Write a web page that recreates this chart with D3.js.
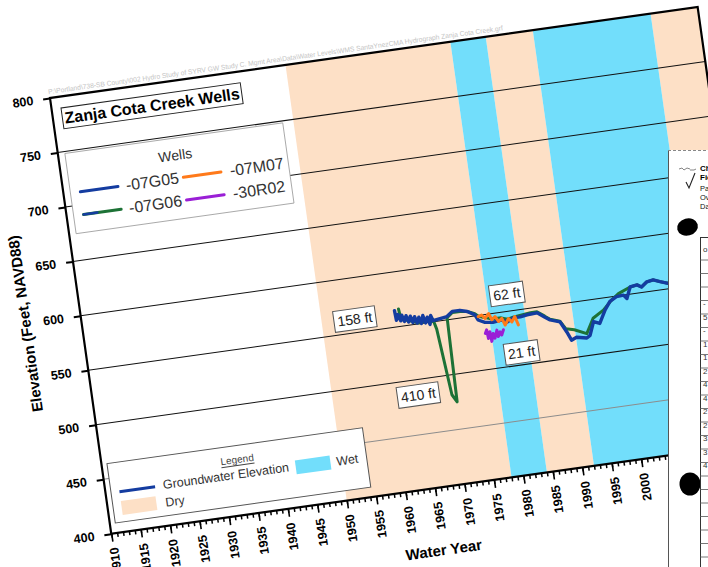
<!DOCTYPE html>
<html>
<head>
<meta charset="utf-8">
<script src="https://cdn.jsdelivr.net/npm/d3@7"></script>
<style>
  body { margin: 0; background: #fff; }
  svg { display: block; }
  text { font-family: "Liberation Sans", Arial, sans-serif; }
</style>
</head>
<body>
<svg id="chart" width="708" height="567"></svg>
<script>
// ---------------- DATA ----------------
const years07G05 = [1962.4,1962.5,1962.9,1963.2,1963.5,1963.8,1964.2,1964.5,1964.9,1965.2,1965.6,1965.9,1966.3,1966.6,1967.0,1967.3,1967.7,1968.0,1968.3,1968.6,1971.0,1972.0,1973.3,1974.5,1975.7,1976.1,1977.2,1978.5,1980.1,1980.9,1982.0,1983.2,1984.4,1986.1,1987.3,1988.1,1989.7,1990.6,1991.2,1992.1,1993.8,1994.4,1995.3,1996.3,1997.5,1998.5,1999.7,2000.9,2001.4,2002.2,2003.4,2004.1,2005.1,2006.2,2007.3,2008.6,2010.0,2012.0];
const elev07G05  = [565,556,561,555,560,554,559,553,558,552,557,551,556,550,557,550,555,548,556,551,553,557,557,555,551,546,543,542,543,540.5,543.5,543.5,544.5,545,540,537,534,524,516,518,516,518,530,527.5,539,546,549.5,550,546.5,556.5,557.5,555,559,560,557.5,555,556,552];

const years07G06 = [1963.1,1963.3,1963.8,1964.5,1965.2,1966.0,1966.8,1967.6,1968.2,1968.6,1969.0,1970.0,1970.7,1971.0,1972.0,1973.3,1974.5,1975.7,1976.3,1977.5,1978.5,1980.0,1981.0,1982.0,1983.5,1985.0,1986.1,1987.3,1988.1,1989.7,1990.5,1991.9,1993.9,1995.3,1997.2,1998.8,2000.1,2002.2,2003.4,2004.1,2005.1,2006.2,2007.3,2008.6];
const elev07G06  = [566,556,556,554,553,551,551,553,550,552,543,482,475,552,556,556,555,552,549,547,545,545,543,544,545,546,546,541,537.5,534.5,527,525,520,533,539,547,552,556.5,557.5,555,559,560,557.5,555];

const years07M07 = [1976.2,1976.8,1977.3,1978.0,1978.4,1979.0,1979.5,1980.1,1980.5,1981.2,1981.7,1982.3,1982.7];
const elev07M07  = [549,550,546.5,550.5,544.5,547,542,544.5,538,543.5,540,544.5,536.5];

const years30R02 = [1977.0,1977.3,1977.4,1977.8,1977.9,1978.3,1978.5,1979.0,1979.1,1979.5,1979.7,1980.1];
const elev30R02  = [533,536,528,534,525,532,527.5,534.5,528.5,532.5,529.5,534];

const dryPeriods = [[1950,1978],[1984,1992],[2012,2020]];
const wetPeriods = [[1978,1984],[1992,2012]];

const yTickValues = [400,450,500,550,600,650,700,750,800];
const gridValues  = [450,500,550,600,650,700,750];
const xMajorTicks = d3.range(1910, 2021, 5);
const xMinorTicks = d3.range(1910, 2021, 1);

const annotationTexts = ["158 ft","62 ft","21 ft","410 ft"];
const annotationYears = [1955.6, 1981.5, 1982.6, 1964.4];
const annotationElevs = [562.4, 565.8, 511.3, 486.0];

const wellNames = ["-07G05","-07M07","-07G06","-30R02"];
const chartTitle = "Zanja Cota Creek Wells";
const filePath = "P:\\Portland\\738-SB County\\002 Hydro Study of SYRV GW Study C. Mgmt Area\\Data\\Water Levels\\WMS SantaYnezCMA  Hydrograph Zanja Cota Creek.grf";

// ---------------- STYLE ----------------
const C = { blue:"#143ca0", green:"#1d7236", orange:"#ff7a1a", purple:"#9a1fd6", dry:"#fde0c6", wet:"#72defb" };

const svg = d3.select("#chart");
const W = 654, H = 440;
const g = svg.append("g").attr("transform", "translate(50,98) rotate(-8)");

const x = d3.scaleLinear().domain([1910, 2020]).range([0, W]);
const y = d3.scaleLinear().domain([400, 800]).range([H, 0]);

// file path text
g.append("text").attr("x", -1).attr("y", -4)
  .attr("font-size", 7).attr("fill", "#c4c4c4")
  .attr("textLength", 459).attr("lengthAdjust", "spacingAndGlyphs")
  .text(filePath);

// white plot bg
g.append("rect").attr("width", W).attr("height", H).attr("fill", "#fff");

// bands
g.selectAll("rect.dry").data(dryPeriods).join("rect").attr("class","dry")
  .attr("x", d => x(d[0])).attr("width", d => x(d[1]) - x(d[0]))
  .attr("y", 0).attr("height", H).attr("fill", C.dry);
g.selectAll("rect.wet").data(wetPeriods).join("rect").attr("class","wet")
  .attr("x", d => x(d[0])).attr("width", d => x(d[1]) - x(d[0]))
  .attr("y", 0).attr("height", H).attr("fill", C.wet);

// gridlines
g.selectAll("line.grid").data(gridValues).join("line").attr("class","grid")
  .attr("x1", 0).attr("x2", W).attr("y1", d => y(d)).attr("y2", d => y(d))
  .attr("stroke", d => d === 450 ? "#8c8c8c" : "#111").attr("stroke-width", 1);

// data lines
const line = d3.line().x(d => x(d[0])).y(d => y(d[1]));
const series = [
  {yrs: years07G06, el: elev07G06, color: C.green, w: 3},
  {yrs: years07G05, el: elev07G05, color: C.blue, w: 3.4},
  {yrs: years07M07, el: elev07M07, color: C.orange, w: 3},
  {yrs: years30R02, el: elev30R02, color: C.purple, w: 3}
];
series.forEach(s => {
  g.append("path").datum(d3.zip(s.yrs, s.el))
    .attr("d", line).attr("fill", "none")
    .attr("stroke", s.color).attr("stroke-width", s.w)
    .attr("stroke-linejoin", "round").attr("stroke-linecap", "round");
});

// frame
g.append("rect").attr("width", W).attr("height", H)
  .attr("fill", "none").attr("stroke", "#000").attr("stroke-width", 2.2);

// y axis
const ya = g.append("g").call(d3.axisLeft(y).tickValues(yTickValues).tickSize(7).tickPadding(10).tickFormat(d3.format("d")));
ya.select(".domain").remove();
ya.selectAll(".tick line").attr("stroke", "#000").attr("stroke-width", 2);
ya.selectAll("text").attr("font-family", "Liberation Sans, Arial, sans-serif")
  .attr("font-size", 12.5).attr("font-weight", "bold").attr("fill", "#000");

// x axis minor
const xm = g.append("g").attr("transform", `translate(0,${H})`)
  .call(d3.axisBottom(x).tickValues(xMinorTicks).tickSize(4).tickFormat(""));
xm.select(".domain").remove();
xm.selectAll(".tick line").attr("stroke", "#000").attr("stroke-width", 1.5);
// x axis major
const xa = g.append("g").attr("transform", `translate(0,${H})`)
  .call(d3.axisBottom(x).tickValues(xMajorTicks).tickSize(8).tickFormat(d3.format("d")));
xa.select(".domain").remove();
xa.selectAll(".tick line").attr("stroke", "#000").attr("stroke-width", 1.6);
xa.selectAll("text")
  .attr("transform", "rotate(-90)").attr("x", -14).attr("y", 0).attr("dy", "0.35em")
  .attr("text-anchor", "end")
  .attr("font-family", "Liberation Sans, Arial, sans-serif")
  .attr("font-size", 12.5).attr("font-weight", "bold").attr("fill", "#000");

// axis titles
g.append("text").attr("transform", `translate(-56,${H/2}) rotate(-90)`)
  .attr("text-anchor", "middle").attr("dominant-baseline", "central")
  .attr("font-size", 15).attr("font-weight", "bold").text("Elevation (Feet, NAVD88)");
g.append("text").attr("x", W/2).attr("y", 502)
  .attr("text-anchor", "middle").attr("dominant-baseline", "central")
  .attr("font-size", 15).attr("font-weight", "bold").text("Water Year");

// title box
g.append("rect").attr("x", 9.5).attr("y", 11.4).attr("width", 181).attr("height", 21)
  .attr("fill", "#fff").attr("stroke", "#222").attr("stroke-width", 1);
g.append("text").attr("x", 100).attr("y", 22).attr("text-anchor", "middle")
  .attr("dominant-baseline", "central").attr("font-size", 16).attr("font-weight", "bold")
  .text(chartTitle);

// wells legend
const wl = g.append("g");
wl.append("rect").attr("x", 7).attr("y", 57).attr("width", 220).attr("height", 81)
  .attr("fill", "#fff").attr("stroke", "#999").attr("stroke-width", 0.8);
wl.append("text").attr("x", 116).attr("y", 74).attr("text-anchor", "middle")
  .attr("dominant-baseline", "central").attr("font-size", 14).attr("fill", "#333").text("Wells");
const wellColors = [C.blue, C.orange, C.green, C.purple];
const colU = [17, 121], textU = [63, 168], rowV = [97, 120];
wellNames.forEach((nm, i) => {
  const c = i % 2, r = Math.floor(i / 2);
  wl.append("line").attr("x1", colU[c]).attr("x2", colU[c] + 38)
    .attr("y1", rowV[r]).attr("y2", rowV[r])
    .attr("stroke", wellColors[i]).attr("stroke-width", 3).attr("stroke-linecap", "round");
  if (nm === "-07G06") {
    wl.append("line").attr("x1", colU[c]).attr("x2", colU[c] + 14)
      .attr("y1", rowV[r]).attr("y2", rowV[r])
      .attr("stroke", C.blue).attr("stroke-width", 2.4).attr("stroke-linecap", "round");
  }
  wl.append("text").attr("x", textU[c]).attr("y", rowV[r]).attr("dominant-baseline", "central")
    .attr("font-size", 16).attr("fill", "#333").text(nm);
});

// bottom legend
const bl = g.append("g");
bl.append("rect").attr("x", 5.5).attr("y", 370).attr("width", 258).attr("height", 60)
  .attr("fill", "#fff").attr("stroke", "#555").attr("stroke-width", 1);
bl.append("text").attr("x", 135).attr("y", 384).attr("text-anchor", "middle")
  .attr("dominant-baseline", "central").attr("font-size", 10).attr("fill", "#444")
  .attr("text-decoration", "underline").text("Legend");
bl.append("line").attr("x1", 14).attr("x2", 50).attr("y1", 399.5).attr("y2", 399.5)
  .attr("stroke", C.blue).attr("stroke-width", 3);
bl.append("text").attr("x", 58).attr("y", 399).attr("dominant-baseline", "central")
  .attr("font-size", 12.5).attr("fill", "#333").text("Groundwater Elevation");
bl.append("rect").attr("x", 192).attr("y", 393).attr("width", 35).attr("height", 14).attr("fill", C.wet);
bl.append("text").attr("x", 233).attr("y", 400).attr("dominant-baseline", "central")
  .attr("font-size", 12.5).attr("fill", "#333").text("Wet");
bl.append("rect").attr("x", 14).attr("y", 409).attr("width", 35).attr("height", 14).attr("fill", C.dry);
bl.append("text").attr("x", 58).attr("y", 417).attr("dominant-baseline", "central")
  .attr("font-size", 12.5).attr("fill", "#333").text("Dry");

// annotation boxes
annotationTexts.forEach((t, i) => {
  const a = g.append("g").attr("transform", `translate(${x(annotationYears[i])},${y(annotationElevs[i])})`);
  const tx = a.append("text").attr("text-anchor", "middle").attr("dominant-baseline", "central")
    .attr("font-size", 14).attr("fill", "#222").text(t);
  const w = tx.node().getComputedTextLength() + 7;
  a.insert("rect", "text").attr("x", -w/2).attr("y", -10.5).attr("width", w).attr("height", 21)
    .attr("fill", "#fff").attr("stroke", "#555").attr("stroke-width", 1);
});

// ---------------- paper overlay (unrotated) ----------------
const p = svg.append("g");
p.append("rect").attr("x", 668).attr("y", 150).attr("width", 40).attr("height", 417).attr("fill", "#fff");
p.append("line").attr("x1", 668.5).attr("x2", 668.5).attr("y1", 150).attr("y2", 567)
  .attr("stroke", "#555").attr("stroke-width", 1);
p.append("line").attr("x1", 668).attr("x2", 708).attr("y1", 150.5).attr("y2", 150.5)
  .attr("stroke", "#888").attr("stroke-width", 1).attr("stroke-dasharray", "3,2");
p.append("path").attr("d", "M679,169 l3,-1 l2,2 l3,-2 l3,1 M690,170 l4,0 l2,-1")
  .attr("fill", "none").attr("stroke", "#666").attr("stroke-width", 0.8);
p.append("text").attr("x", 700).attr("y", 171).attr("font-size", 8).attr("font-weight", "bold").attr("fill", "#000").text("Check");
p.append("text").attr("x", 700).attr("y", 180).attr("font-size", 8).attr("font-weight", "bold").attr("fill", "#000").text("Field");
p.append("path").attr("d", "M686,182 l3,6 l6,-15").attr("fill", "none").attr("stroke", "#222").attr("stroke-width", 1.1);
[["Pa",191],["Ov",200],["Da",209]].forEach(([t, yy]) => {
  p.append("text").attr("x", 700).attr("y", yy).attr("font-size", 7.5)
    .attr("font-family", "Liberation Serif, serif").attr("fill", "#111").text(t + "rameter");
});
p.append("ellipse").attr("cx", 687.5).attr("cy", 227).attr("rx", 10.5).attr("ry", 8.5)
  .attr("transform", "rotate(-15,687.5,227)").attr("fill", "#000");
p.append("ellipse").attr("cx", 690).attr("cy", 484).attr("rx", 10.5).attr("ry", 11.5).attr("fill", "#000");
p.append("line").attr("x1", 700.5).attr("x2", 700.5).attr("y1", 237).attr("y2", 567).attr("stroke", "#333").attr("stroke-width", 1);
p.append("line").attr("x1", 700).attr("x2", 708).attr("y1", 237.5).attr("y2", 237.5).attr("stroke", "#333");
d3.range(260, 567, 13.5).forEach(yy => {
  p.append("line").attr("x1", 700).attr("x2", 708).attr("y1", yy).attr("y2", yy).attr("stroke", "#555").attr("stroke-width", 0.8);
});
const cellChars = ["o","","","","-","5","-","1","1","2","4","4","2","2","3","3","4","","",""];
cellChars.forEach((ch, i) => {
  if (!ch) return;
  p.append("text").attr("x", 703).attr("y", 252 + i * 13.5).attr("font-size", 8)
    .attr("font-family", "Liberation Serif, serif").attr("fill", "#333").text(ch);
});
</script>
</body>
</html>
